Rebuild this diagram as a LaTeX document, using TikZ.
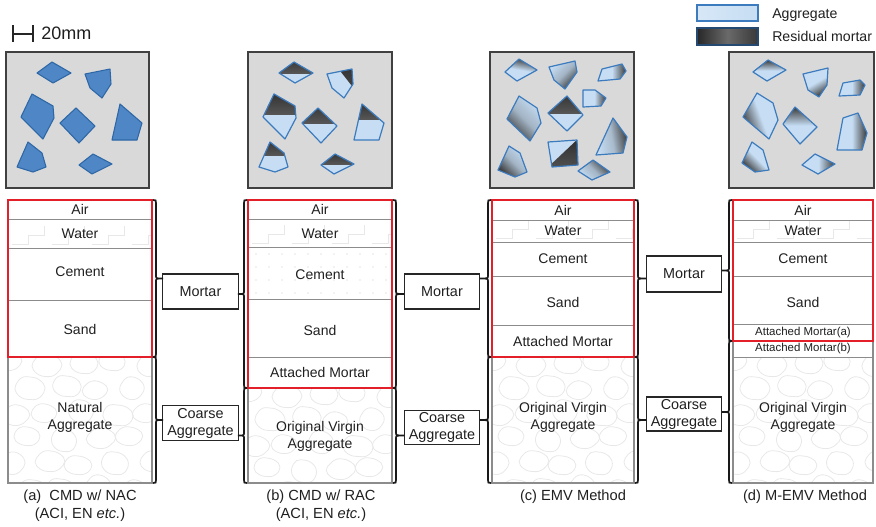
\documentclass[tikz,border=0pt]{standalone}
\usepackage{fontspec}
\setmainfont{Liberation Sans}
\definecolor{sqfill}{HTML}{D9D9D9}
\definecolor{sqedge}{HTML}{404040}
\definecolor{nacfill}{HTML}{4F87C6}
\definecolor{nacedge}{HTML}{2E67A6}
\definecolor{aggfill}{HTML}{C6DDF3}
\definecolor{agglight}{HTML}{E4EFFA}
\definecolor{aggedge}{HTML}{3C7BBE}
\definecolor{resdark}{HTML}{383838}
\definecolor{redbox}{HTML}{E3202A}
\definecolor{rowline}{HTML}{8C8C8C}
\definecolor{stonecol}{HTML}{E8E8E8}

% faint cobblestone texture inside a rectangle
\newcommand\stonefield[4]{%
  \begin{scope}
    \clip (#1,#2) rectangle (#3,#4);
    \foreach \i in {0,...,5}{%
      \foreach \j in {0,...,5}{%
        \pgfmathsetmacro\stX{#1+2+34*\i+17*mod(\j,2)+3*mod(\i+\j,3)}%
        \pgfmathsetmacro\stY{#2+4+25*\j+2*mod(\i*2+\j,3)}%
        \pgfmathsetmacro\stA{14+mod(\i*7+\j*3,4)}%
        \pgfmathsetmacro\stB{10+mod(\i*5+\j*2,3)}%
        \pgfmathsetmacro\stC{0.3+0.1*mod(\i+2*\j,4)}%
        \draw[stoneline] (\stX-\stA,\stY+1) -- (\stX-\stC*\stA,\stY-\stB)
          -- (\stX+0.5*\stA,\stY-\stB+2) -- (\stX+\stA,\stY)
          -- (\stX+\stC*\stA,\stY+\stB) -- (\stX-0.5*\stA,\stY+\stB-1) -- cycle;
      }}
  \end{scope}}
% faint stepped lines in a water layer
\newcommand\waterfield[4]{%
  \begin{scope}
    \clip (#1,#2) rectangle (#3,#4);
    \foreach \k in {0,...,3}{%
      \draw[stoneline, rounded corners=0pt] ({#1+4+40*\k},{#4-4}) -- ++(16,0) -- ++(0,-9) -- ++(16,0) -- ++(0,-9);
    }
  \end{scope}}
% curly braces: x, top y, bottom y, tip x
\newcommand\bracer[4]{%
  \draw[braceline] ({#1-3},#2) .. controls (#1,#2) .. (#1,{#2+3})
    -- (#1,{(#2+#3)/2-3}) .. controls (#1,{(#2+#3)/2}) .. (#4,{(#2+#3)/2})
    .. controls (#1,{(#2+#3)/2}) .. (#1,{(#2+#3)/2+3})
    -- (#1,{#3-3}) .. controls (#1,#3) .. ({#1-3},#3);}
\newcommand\bracel[4]{%
  \draw[braceline] ({#1+3},#2) .. controls (#1,#2) .. (#1,{#2+3})
    -- (#1,{(#2+#3)/2-3}) .. controls (#1,{(#2+#3)/2}) .. (#4,{(#2+#3)/2})
    .. controls (#1,{(#2+#3)/2}) .. (#1,{(#2+#3)/2+3})
    -- (#1,{#3-3}) .. controls (#1,#3) .. ({#1+3},#3);}
% particle with a sharp residual-mortar part: outline, dark region
\newcommand\splitparticle[2]{%
  \fill[aggfill] #1 -- cycle;
  \begin{scope}
    \clip #1 -- cycle;
    \shade[top color=resdark!80!black, bottom color=resdark!85!white] #2;
  \end{scope}
  \draw[agg] #1 -- cycle;}
% particle with graded residual mortar: outline, shading angle, middle colour
\newcommand\gradparticle[3]{%
  \path[agg, top color=aggfill, bottom color=resdark, middle color=#3, shading angle=#2] #1 -- cycle;}

\begin{document}
\begin{tikzpicture}[x=0.75pt,y=-0.75pt,
  sq/.style={fill=sqfill, draw=sqedge, line width=1.1pt},
  nac/.style={fill=nacfill, draw=nacedge, line width=0.8pt, line join=round},
  agg/.style={draw=aggedge, line width=0.9pt, line join=round},
  stoneline/.style={draw=stonecol, line width=0.6pt, rounded corners=4pt},
  colframe/.style={draw=rowline, line width=0.8pt},
  rowsep/.style={draw=rowline, line width=0.6pt},
  redframe/.style={draw=redbox, line width=1.9pt},
  braceline/.style={draw=black!90, line width=1.25pt},
  lbl/.style={inner sep=0pt, align=center, text=black!88, font=\fontsize{10.5}{12.8}\selectfont},
  small/.style={inner sep=0pt, text=black!88, font=\fontsize{8.6}{10}\selectfont},
  tag/.style={draw=black!85, line width=0.8pt, inner sep=0pt, align=center, text=black!88,
    font=\fontsize{10.8}{12.8}\selectfont, minimum width=56.5pt},
  captext/.style={inner sep=0pt, align=center, text=black!88, font=\fontsize{11}{13.5}\selectfont}]
\useasboundingbox (0,0) rectangle (876,526);

% ---------- scale bar ----------
\draw[line width=1.5pt, black!85] (13,25) -- (13,42) (13,33.5) -- (33,33.5) (33,25) -- (33,42);
\node[anchor=west, inner sep=0pt, font=\fontsize{13.5}{16}\selectfont, text=black!88] (scalebar) at (41,33) {20mm};

% ---------- legend ----------
\path[draw=aggedge, line width=0.8pt, left color=aggfill!70!white, right color=aggfill] (697,5) rectangle (758,21);
\node[anchor=base west, inner sep=0pt, font=\fontsize{10.6}{12}\selectfont, text=black!88] (lg-agg) at (772,18.5) {Aggregate};
\path[draw=aggedge!60!black, line width=0.8pt, left color=resdark!70!black, right color=resdark, middle color=resdark!75!white] (697,28) rectangle (758,45);
\node[anchor=base west, inner sep=0pt, font=\fontsize{10.6}{12}\selectfont, text=black!88] (lg-res) at (772,41) {Residual mortar};

% ---------- concrete sections ----------
% (a) natural aggregate
\draw[sq] (6,52) rectangle (149,188);
\draw[nac] (37,73) -- (52,62) -- (71,73) -- (53,83) -- cycle;
\draw[nac] (85,74) -- (110,69) -- (111,84) -- (102,98) -- (90,88) -- cycle;
\draw[nac] (32,94) -- (53,106) -- (54,118) -- (43,139) -- (21,117) -- cycle;
\draw[nac] (76,108) -- (95,126) -- (79,143) -- (60,123) -- cycle;
\draw[nac] (120,104) -- (142,123) -- (137,140) -- (112,140) -- cycle;
\draw[nac] (28,142) -- (42,153) -- (46,167) -- (33,172) -- (17,167) -- cycle;
\draw[nac] (93,154) -- (112,164) -- (92,174) -- (79,165) -- cycle;

% (b) recycled aggregate, mortar on top
\draw[sq] (248,52) rectangle (392,188);
\splitparticle{(279,73) -- (294,62) -- (313,73) -- (295,83)}{(250,55) rectangle (390,73)}
\splitparticle{(327,74) -- (352,69) -- (353,84) -- (344,98) -- (332,88)}{(330,58) -- (370,58) -- (370,109) -- cycle}
\splitparticle{(274,94) -- (295,106) -- (296,118) -- (285,139) -- (263,117)}{(250,90) rectangle (390,114)}
\splitparticle{(318,108) -- (337,126) -- (321,143) -- (302,123)}{(250,100) rectangle (390,123)}
\splitparticle{(362,104) -- (384,123) -- (379,140) -- (354,140)}{(250,100) rectangle (390,119)}
\splitparticle{(270,142) -- (284,153) -- (288,167) -- (275,172) -- (259,167)}{(250,138) rectangle (390,155)}
\splitparticle{(335,154) -- (354,164) -- (334,174) -- (321,165)}{(250,150) rectangle (390,164)}

% (c) EMV method
\draw[sq] (490,52) rectangle (634,188);
\gradparticle{(505,72) -- (519,59) -- (537,70) -- (517,81)}{170}{aggfill}
\gradparticle{(549,67) -- (575,61) -- (577,72) -- (565,89) -- (554,80)}{45}{aggfill!75!resdark}
\gradparticle{(602,69) -- (622,64) -- (626,71) -- (620,79) -- (598,81)}{90}{aggfill}
\gradparticle{(583,90) -- (595,90) -- (606,98) -- (601,106) -- (583,107)}{90}{aggfill}
\gradparticle{(519,96) -- (537,108) -- (541,123) -- (530,141) -- (507,119)}{315}{aggfill!75!resdark}
\splitparticle{(567,96) -- (583,115) -- (567,131) -- (548,113)}{(540,90) rectangle (590,113)}
\gradparticle{(613,118) -- (627,137) -- (623,153) -- (596,155)}{100}{aggfill!80!resdark}
\gradparticle{(509,146) -- (520,153) -- (527,172) -- (515,177) -- (498,170)}{315}{aggfill!75!resdark}
\splitparticle{(548,142) -- (577,140) -- (578,165) -- (552,167)}{(545,170) -- (580,137) -- (585,172) -- cycle}
\gradparticle{(593,160) -- (610,172) -- (592,180) -- (578,171)}{135}{aggfill!75!resdark}

% (d) M-EMV method
\draw[sq] (729,52) rectangle (874,188);
\gradparticle{(753,72) -- (768,60) -- (786,70) -- (767,81)}{180}{aggfill}
\gradparticle{(803,74) -- (828,68) -- (827,85) -- (819,97) -- (808,90)}{30}{aggfill}
\gradparticle{(843,83) -- (860,80) -- (865,85) -- (860,95) -- (839,96)}{90}{aggfill}
\gradparticle{(757,93) -- (773,103) -- (778,120) -- (769,139) -- (743,117)}{290}{aggfill}
\gradparticle{(795,107) -- (817,127) -- (800,144) -- (783,124)}{180}{aggfill}
\gradparticle{(858,113) -- (867,133) -- (862,150) -- (837,150) -- (843,118)}{90}{aggfill}
\gradparticle{(752,142) -- (763,150) -- (769,170) -- (755,172) -- (742,163)}{315}{aggfill}
\gradparticle{(815,154) -- (835,164) -- (818,174) -- (802,165)}{90}{aggfill}

% ---------- mix composition columns ----------
% (a)
\stonefield{8}{357}{152}{483}
\waterfield{8}{219}{152}{248}
\draw[colframe] (8,200) rectangle (152,483);
\draw[rowsep] (8,219) -- (152,219) (8,248) -- (152,248) (8,300) -- (152,300) (8,357) -- (152,357);
\node[lbl] (a-air) at (80,209.5) {Air};
\node[lbl] (a-water) at (80,234) {Water};
\node[lbl] (a-cement) at (80,272) {Cement};
\node[lbl] (a-sand) at (80,329) {Sand};
\node[lbl] (a-agg) at (80,417) {Natural\\Aggregate};
\draw[redframe] (8,200) rectangle (152,357);

% (b)
\stonefield{248}{388}{392}{483}
\waterfield{248}{219}{392}{247}
\foreach \u in {0,...,10}{\foreach \v in {0,...,3}{\fill[black!22] ({256+13*\u},{254+13*\v}) circle (0.6);}}
\draw[colframe] (248,200) rectangle (392,483);
\draw[rowsep] (248,219) -- (392,219) (248,247) -- (392,247) (248,299) -- (392,299) (248,357) -- (392,357) (248,388) -- (392,388);
\node[lbl] (b-air) at (320,209.5) {Air};
\node[lbl] (b-water) at (320,234) {Water};
\node[lbl] (b-cement) at (320,275) {Cement};
\node[lbl] (b-sand) at (320,330) {Sand};
\node[lbl] (b-att) at (320,372.5) {Attached Mortar};
\node[lbl] (b-agg) at (320,436) {Original Virgin\\Aggregate};
\draw[redframe] (248,200) rectangle (392,388);

% (c)
\stonefield{492}{357}{634}{483}
\waterfield{492}{220}{634}{242}
\draw[colframe] (492,200) rectangle (634,483);
\draw[rowsep] (492,220) -- (634,220) (492,242) -- (634,242) (492,276) -- (634,276) (492,325) -- (634,325) (492,357) -- (634,357);
\node[lbl] (c-air) at (563,210) {Air};
\node[lbl] (c-water) at (563,231) {Water};
\node[lbl] (c-cement) at (563,259) {Cement};
\node[lbl] (c-sand) at (563,302) {Sand};
\node[lbl] (c-att) at (563,341) {Attached Mortar};
\node[lbl] (c-agg) at (563,417) {Original Virgin\\Aggregate};
\draw[redframe] (492,200) rectangle (634,357);

% (d)
\stonefield{733}{357}{873}{483}
\waterfield{733}{220}{873}{242}
\draw[colframe] (733,200) rectangle (873,483);
\draw[rowsep] (733,220) -- (873,220) (733,242) -- (873,242) (733,276) -- (873,276) (733,324) -- (873,324) (733,341) -- (873,341) (733,357) -- (873,357);
\node[lbl] (d-air) at (803,210) {Air};
\node[lbl] (d-water) at (803,231) {Water};
\node[lbl] (d-cement) at (803,259) {Cement};
\node[lbl] (d-sand) at (803,302) {Sand};
\node[small] (d-atta) at (803,332.5) {Attached Mortar(a)};
\node[small] (d-attb) at (803,349) {Attached Mortar(b)};
\node[lbl] (d-agg) at (803,417) {Original Virgin\\Aggregate};
\draw[redframe] (733,200) rectangle (873,341);

% ---------- group labels between columns ----------
\node[tag, minimum height=26.25pt] (mortar1) at (200.5,291.5) {Mortar};
\node[tag, minimum height=26.5pt] (coarse1) at (200.5,423) {Coarse\\Aggregate};
\node[tag, minimum height=26.25pt] (mortar2) at (442,291.5) {Mortar};
\node[tag, minimum height=25.5pt] (coarse2) at (442,427.5) {Coarse\\Aggregate};
\node[tag, minimum height=27pt] (mortar3) at (684,274) {Mortar};
\node[tag, minimum height=25.5pt] (coarse3) at (684,414) {Coarse\\Aggregate};

% ---------- braces ----------
\bracer{156}{200}{357}{163}
\bracer{156}{357}{483}{163}
\bracel{244}{200}{388}{238}
\bracel{244}{388}{483}{238}
\bracer{396}{200}{388}{404}
\bracer{396}{388}{483}{404}
\bracel{488}{200}{357}{480}
\bracel{488}{357}{483}{480}
\bracer{638}{200}{357}{646}
\bracer{638}{357}{483}{646}
\bracel{729}{200}{341}{722}
\bracel{729}{341}{483}{722}

% ---------- captions ----------
\node[captext] (cap-a) at (80,506) {(a)\ \ CMD w/ NAC\\(ACI, EN \textit{etc.})};
\node[captext] (cap-b) at (321,506) {(b) CMD w/ RAC\\(ACI, EN \textit{etc.})};
\node[captext] (cap-c) at (573,497) {(c) EMV Method};
\node[captext] (cap-d) at (805,497) {(d) M-EMV Method};
\end{tikzpicture}
\end{document}
